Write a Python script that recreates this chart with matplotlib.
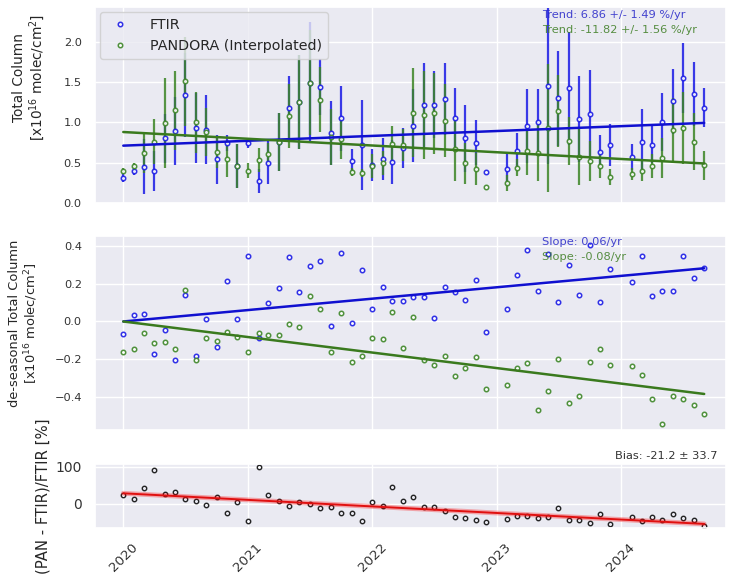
import numpy as np
import pandas as pd
import matplotlib
matplotlib.use("Agg")
import matplotlib.pyplot as plt
import matplotlib.dates as mdates
import seaborn as sns

# ---------------- data ----------------
months = ["2020-01", "2020-02", "2020-03", "2020-04", "2020-05", "2020-06", "2020-07", "2020-08",
          "2020-09", "2020-10", "2020-11", "2020-12", "2021-01", "2021-02", "2021-03", "2021-04",
          "2021-05", "2021-06", "2021-07", "2021-08", "2021-09", "2021-10", "2021-11", "2021-12",
          "2022-01", "2022-02", "2022-03", "2022-04", "2022-05", "2022-06", "2022-07", "2022-08",
          "2022-09", "2022-10", "2022-11", "2022-12",
          "2023-02", "2023-03", "2023-04", "2023-05", "2023-06", "2023-07", "2023-08", "2023-09",
          "2023-10", "2023-11", "2023-12",
          "2024-02", "2024-03", "2024-04", "2024-05", "2024-06", "2024-07", "2024-08", "2024-09"]

ftir_tc = [0.31, 0.40, 0.45, 0.40, 0.80, 0.89, 1.34, 0.93, 0.91, 0.54, 0.74, 0.46,
           0.74, 0.27, 0.50, 0.76, 1.18, 1.25, 1.49, 1.44, 0.87, 1.05, 0.52, 0.72,
           0.47, 0.54, 0.51, 0.68, 0.96, 1.22, 1.22, 1.29, 1.06, 0.80, 0.75, 0.39,
           0.42, 0.65, 0.95, 1.00, 1.45, 1.30, 1.42, 1.04, 1.10, 0.63, 0.72,
           0.57, 0.76, 0.72, 1.00, 1.26, 1.55, 1.35, 1.18]
ftir_err = [0.05, 0.05, 0.34, 0.25, 0.30, 0.42, 0.52, 0.43, 0.43, 0.30, 0.10, 0.27,
            0.06, 0.15, 0.27, 0.36, 0.39, 0.58, 0.75, 0.35, 0.40, 0.40, 0.15, 0.56,
            0.20, 0.26, 0.27, 0.25, 0.45, 0.52, 0.42, 0.45, 0.37, 0.42, 0.28, 0.0,
            0.20, 0.22, 0.46, 0.41, 0.97, 0.59, 0.70, 0.53, 0.55, 0.21, 0.26,
            0.16, 0.40, 0.23, 0.36, 0.40, 0.43, 0.40, 0.24]
pan_tc = [0.395, 0.46, 0.62, 0.76, 0.99, 1.15, 1.51, 1.00, 0.88, 0.63, 0.55, 0.46,
          0.40, 0.53, 0.61, 0.76, 1.08, 1.25, 1.49, 1.28, 0.82, 0.79, 0.38, 0.37,
          0.46, 0.50, 0.73, 0.72, 1.12, 1.09, 1.11, 1.02, 0.67, 0.49, 0.42, 0.20,
          0.25, 0.44, 0.65, 0.62, 0.93, 1.14, 0.77, 0.57, 0.52, 0.46, 0.32,
          0.36, 0.40, 0.46, 0.56, 0.90, 0.93, 0.76, 0.47]
pan_err = [0.04, 0.04, 0.25, 0.28, 0.56, 0.49, 0.55, 0.38, 0.30, 0.20, 0.23, 0.27,
           0.09, 0.15, 0.14, 0.36, 0.40, 0.58, 0.65, 0.40, 0.35, 0.25, 0.05, 0.05,
           0.15, 0.15, 0.22, 0.20, 0.55, 0.55, 0.50, 0.45, 0.40, 0.25, 0.20, 0.0,
           0.10, 0.10, 0.30, 0.35, 0.79, 0.45, 0.30, 0.35, 0.25, 0.15, 0.10,
           0.08, 0.13, 0.15, 0.25, 0.40, 0.45, 0.35, 0.18]

ftir_deseas = [-0.068, 0.036, 0.040, -0.174, -0.045, -0.204, 0.140, -0.183, 0.015, -0.137, 0.215, 0.012,
               0.349, -0.086, 0.100, 0.179, 0.340, 0.155, 0.292, 0.319, -0.024, 0.361, -0.006, 0.271,
               0.068, 0.183, 0.107, 0.107, 0.128, 0.128, 0.019, 0.181, 0.156, 0.112, 0.221, -0.056,
               0.065, 0.246, 0.379, 0.163, 0.356, 0.102, 0.299, 0.140, 0.405, 0.102, 0.280,
               0.208, 0.347, 0.137, 0.162, 0.162, 0.345, 0.232, 0.282]
pan_deseas = [-0.163, -0.147, -0.063, -0.114, -0.110, -0.147, 0.168, -0.202, -0.086, -0.103, -0.054, -0.081,
              -0.160, -0.059, -0.070, -0.070, -0.015, -0.028, 0.137, 0.068, -0.160, 0.047, -0.215, -0.181,
              -0.086, -0.091, 0.050, -0.140, 0.024, -0.204, -0.232, -0.183, -0.287, -0.245, -0.186, -0.356,
              -0.336, -0.245, -0.218, -0.469, -0.368, -0.199, -0.430, -0.393, -0.216, -0.144, -0.232,
              -0.234, -0.283, -0.411, -0.541, -0.396, -0.409, -0.442, -0.492]

rel_diff = [24.3, 14.4, 42.3, 91.9, 27.9, 31.5, 14.4, 9.0, -2.7, 19.8, -25.2, 5.4,
            -45.9, 100.9, 24.3, 8.1, -6.3, 4.5, 0.9, -9.9, -7.2, -23.4, -23.4, -46.8,
            5.4, -5.4, 46.8, 9.0, 19.8, -9.0, -8.1, -18.9, -36.0, -37.8, -44.1, -48.6,
            -39.6, -33.3, -31.5, -36.9, -36.0, -10.8, -44.1, -44.1, -51.3, -26.1, -54.9,
            -36.0, -45.0, -35.1, -42.3, -26.1, -38.7, -42.3, -59.4]

# trend line end values (first month, last month)
ftir_trend = [0.711, 0.993]
pan_trend = [0.88, 0.49]
ftir_deseas_trend = [0.0, 0.282]
pan_deseas_trend = [0.0, -0.384]
rel_trend = [28.8, -54.0]

trend_texts = ["Trend: 6.86 +/- 1.49 %/yr", "Trend: -11.82 +/- 1.56 %/yr"]
slope_texts = ["Slope: 0.06/yr", "Slope: -0.08/yr"]
bias_text = "Bias: -21.2 ± 33.7"
series_labels = ["FTIR", "PANDORA (Interpolated)"]
year_ticks = ["2020-01-01", "2021-01-01", "2022-01-01", "2023-01-01", "2024-01-01"]

# ---------------- style ----------------
sns.set_theme(style="darkgrid")
plt.rcParams["font.family"] = ["DejaVu Sans"]

BLUE = "#1a1ae6"
BLUE_LINE = "#1010d0"
GREEN = "#3c8526"
GREEN_LINE = "#3a7a1e"

dates = pd.to_datetime(months)
tdates = [dates[0], dates[-1]]
xlim = (pd.Timestamp("2019-10-10"), pd.Timestamp("2024-11-04"))

W, H = 730, 574
fig = plt.figure(figsize=(W / 100, H / 100), dpi=100)
L, R = 95 / W, 726 / W
ax1 = fig.add_axes([L, 1 - 203 / H, R - L, 196 / H])
ax2 = fig.add_axes([L, 1 - 430 / H, R - L, 194 / H])
ax3 = fig.add_axes([L, 1 - 528 / H, R - L, 64 / H])

# ---- top panel ----
ax1.errorbar(dates, ftir_tc, yerr=ftir_err, fmt="none", ecolor=BLUE, elinewidth=1.6, alpha=0.85)
ax1.errorbar(dates, pan_tc, yerr=pan_err, fmt="none", ecolor=GREEN, elinewidth=1.6, alpha=0.85)
ax1.plot(dates, ftir_tc, "o", ms=3.2, mfc="white", mec=BLUE, mew=1.1, alpha=0.9, label=series_labels[0])
ax1.plot(dates, pan_tc, "o", ms=3.2, mfc="white", mec=GREEN, mew=1.1, alpha=0.9, label=series_labels[1])
ax1.plot(tdates, ftir_trend, color=BLUE_LINE, lw=1.8)
ax1.plot(tdates, pan_trend, color=GREEN_LINE, lw=1.8)
ax1.set_ylim(0, 2.43)
ax1.set_yticks([0.0, 0.5, 1.0, 1.5, 2.0])
ax1.set_ylabel("Total Column\n[x10$^{16}$ molec/cm$^2$]", fontsize=9.8, linespacing=1.1)
ax1.yaxis.set_label_coords(-0.076, 0.64)
ax1.text(0.708, 0.985, trend_texts[0], transform=ax1.transAxes, color="#2525c8", alpha=0.85,
         fontsize=8.2, ha="left", va="top")
ax1.text(0.708, 0.91, trend_texts[1], transform=ax1.transAxes, color="#3c7d22", alpha=0.85,
         fontsize=8.2, ha="left", va="top")
leg = ax1.legend(loc="upper left", fontsize=10.3, handlelength=2.0, handletextpad=1.1,
                 borderaxespad=0.35, frameon=True)

# ---- middle panel ----
ax2.plot(dates, ftir_deseas, "o", ms=3.2, mfc="white", mec=BLUE, mew=1.1, alpha=0.9)
ax2.plot(dates, pan_deseas, "o", ms=3.2, mfc="white", mec=GREEN, mew=1.1, alpha=0.9)
ax2.plot(tdates, ftir_deseas_trend, color=BLUE_LINE, lw=1.8)
ax2.plot(tdates, pan_deseas_trend, color=GREEN_LINE, lw=1.8)
ax2.set_ylim(-0.575, 0.453)
ax2.set_yticks([-0.4, -0.2, 0.0, 0.2, 0.4])
ax2.set_ylabel("de-seasonal Total Column\n[x10$^{16}$ molec/cm$^2$]", fontsize=9.4, linespacing=1.1)
ax2.yaxis.set_label_coords(-0.087, 0.55)
ax2.text(0.708, 0.995, slope_texts[0], transform=ax2.transAxes, color="#2525c8", alpha=0.85,
         fontsize=8.2, ha="left", va="top")
ax2.text(0.708, 0.918, slope_texts[1], transform=ax2.transAxes, color="#3c7d22", alpha=0.85,
         fontsize=8.2, ha="left", va="top")

# ---- bottom panel ----
ax3.plot(dates, rel_diff, "o", ms=3.2, mfc="none", mec="black", mew=1.0, alpha=0.85)
ax3.plot(tdates, rel_trend, color="red", lw=3.5, alpha=0.3)
ax3.plot(tdates, rel_trend, color="#e01010", lw=1.4)
ax3.set_ylim(-65, 108)
ax3.set_yticks([0, 100])
ax3.set_ylabel("(PAN - FTIR)/FTIR [%]", fontsize=10.7)
ax3.yaxis.set_label_coords(-0.071, 0.5)
ax3.text(0.987, 1.04, bias_text, transform=ax3.transAxes, fontsize=8.2, ha="right", va="bottom",
         color="#333333")

for ax in (ax1, ax2, ax3):
    ax.set_xlim(*xlim)
    ax.set_xticks(pd.to_datetime(year_ticks))
    ax.xaxis.set_major_formatter(mdates.DateFormatter("%Y"))
for ax in (ax1, ax2):
    ax.tick_params(axis="x", labelbottom=False)
    ax.tick_params(axis="y", labelsize=8.2, colors="#333333")
ax3.tick_params(axis="y", labelsize=10, colors="#333333")
ax3.tick_params(axis="x", labelsize=9.6, colors="#333333", pad=3)
for lab in ax3.get_xticklabels():
    lab.set_rotation(45)
    lab.set_ha("center")

fig.savefig("out.png", dpi=100)
